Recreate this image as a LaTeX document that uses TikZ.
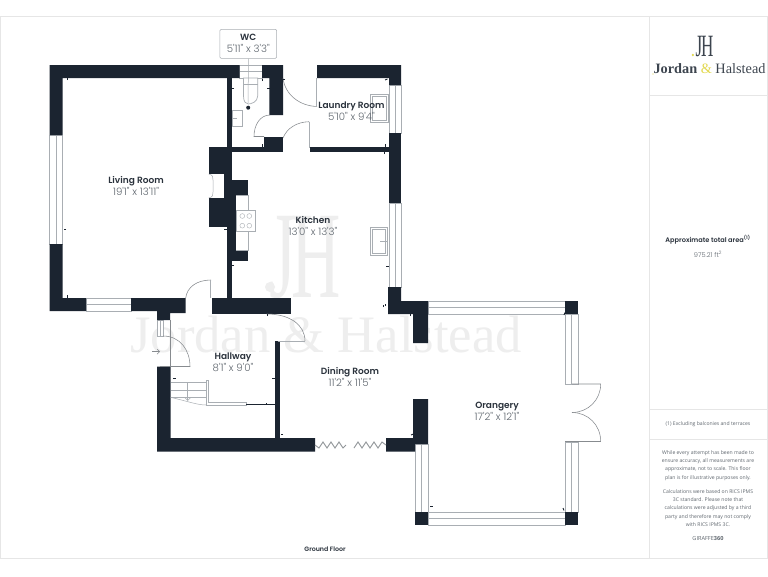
\documentclass[tikz,border=0pt]{standalone}
\usepackage{fontspec}
\setmainfont{Poppins}[BoldFont={Poppins SemiBold}]
\newfontfamily\dimfont{Poppins Light}
\newfontfamily\serifbrand{Liberation Serif}
\newfontfamily\smallsans{Open Sans}
\usetikzlibrary{arrows.meta}
\definecolor{wall}{HTML}{1B2430}
\definecolor{frameline}{HTML}{E6E6E6}
\definecolor{fixture}{HTML}{A9AEB3}
\definecolor{dimtext}{HTML}{5F666E}
\definecolor{nametext}{HTML}{2A323C}
\definecolor{wmgray}{HTML}{EEEEEE}
\definecolor{brandgold}{HTML}{E2D84C}
\tikzset{
  wallfill/.style={fill=wall,draw=none},
  winbox/.style={draw=fixture,line width=.6pt,fill=white},
  fixline/.style={draw=fixture,line width=.7pt},
  doorline/.style={draw=fixture!80!black,line width=.55pt},
  bifold/.style={draw=fixture!85!black,line width=.9pt},
  roomtext/.style={align=center,inner sep=0pt,font=\fontsize{9}{12}\selectfont},
  notetext/.style={align=center,inner sep=0pt,text=dimtext,font=\smallsans\fontsize{5.1}{8.2}\selectfont},
  tick/.style={draw=wall,line width=.9pt},
}
\newcommand{\roomlabel}[2]{{\color{nametext}\bfseries #1}\\{\color{dimtext}\dimfont\fontsize{10.2}{12}\selectfont #2}}
\begin{document}
\begin{tikzpicture}[x=1pt,y=-1pt]
\useasboundingbox (0,0) rectangle (768,576);
\fill[white] (0,0) rectangle (768,576);
% frame
\draw[frameline,line width=.7pt] (0.7,16.2) rectangle (767.5,558);
\draw[frameline,line width=.6pt] (649.5,16.2) -- (649.5,558);
\draw[frameline,line width=.6pt] (649.5,95.5) -- (767.5,95.5);
\draw[frameline,line width=.6pt] (649.5,409.5) -- (767.5,409.5);
\draw[frameline,line width=.6pt] (649.5,439.5) -- (767.5,439.5);
% watermark
\node[text=wmgray,inner sep=0pt,font=\serifbrand\fontsize{52.6}{52}\selectfont] (wmtext) at (326,335) {Jordan \& Halstead};
\node[text=wmgray,inner sep=0pt,font=\serifbrand\fontsize{124}{124}\selectfont] (wmjh) at (305,258) {\scalebox{.55}[1]{J\kern-8pt H}};
\fill[wmgray] (270,287) circle (5);
% windows (under the walls)
\foreach \xa/\ya/\xb/\yb/\xm/\ym/\xn/\yn in {
  49.5/135/62.5/244/56/135/56/244,
  86/298/131/311/86/304.5/131/304.5,
  239.5/65/262/78/239.5/71.5/262/71.5,
  389/85/401/133/395/85/395/133,
  389/203/401/287/395/203/395/287,
  428/301/565/314/428/307.5/565/307.5,
  565/314/578/384/571.5/314/571.5/384,
  565/442/578/512/571.5/442/571.5/512,
  428/512/565/525/428/518.5/565/518.5,
  415/444/428/512/421.5/444/421.5/512,
  157.5/320/163.5/336/160.5/320/160.5/336}{
  \draw[winbox] (\xa,\ya) rectangle (\xb,\yb);
  \draw[fixline,line width=.5pt] (\xm,\ym) -- (\xn,\yn);
}
% main walls
\fill[wallfill] (49.5,65) -- (239.5,65) -- (239.5,78) -- (62.5,78) -- (62.5,135) -- (49.5,135) -- cycle;
\fill[wallfill] (49.5,244) -- (62.5,244) -- (62.5,298) -- (86,298) -- (86,311) -- (49.5,311) -- cycle;
\fill[wallfill] (131,298) -- (185.7,298) -- (185.7,313) -- (170,313) -- (170,320) -- (157,320) -- (157,311) -- (131,311) -- cycle;
\fill[wallfill] (211.5,298) rectangle (290.7,314);
% living / kitchen party wall
\fill[wallfill] (226.7,78) rectangle (231.7,150);
\fill[wallfill] (226.7,146.7) rectangle (282.7,151.7);
\fill[wallfill] (263.5,136.7) rectangle (282.7,151.7);
\fill[wallfill] (208.7,146.5) rectangle (231.7,226.5);
\fill[white] (208.7,174) rectangle (224,198);
\draw[fixline,line width=.5pt] (208.7,174) .. controls (213,175) and (213,177) .. (213,180) -- (213,192) .. controls (213,195) and (213,197) .. (208.7,198);
\fill[wallfill] (226.7,226) rectangle (231.7,298);
% kitchen cooker run
\fill[wallfill] (231,180) rectangle (248,195);
\fill[wallfill] (231,195) rectangle (236.3,250);
\fill[wallfill] (231,250) rectangle (248,261);
\draw[fixline,line width=.5pt] (236.3,195) -- (248,195) -- (248,250) -- (236.3,250);
\draw[fixline,fill=white] (236.7,210) rectangle (255.3,231.3);
\foreach \cx/\cy in {242.3/216,249.3/216,242.3/225.7,249.3/225.7}
  \draw[fixline,line width=.4pt] (\cx,\cy) circle (2.4);
% WC walls
\fill[wallfill] (262,65) -- (283,65) -- (283,115) -- (269.3,115) -- (269.3,78) -- (262,78) -- cycle;
% laundry and right walls
\fill[wallfill] (317,65) -- (401,65) -- (401,85) -- (389,85) -- (389,78) -- (317,78) -- cycle;
\fill[wallfill] (310,146.7) rectangle (389,151.7);
\fill[wallfill] (389,133) rectangle (401,203);
\fill[wallfill] (388,287) -- (401,287) -- (401,301) -- (428,301) -- (428,343) -- (413,343) -- (413,314) -- (388,314) -- cycle;
% hallway and south walls
\fill[wallfill] (157,366.7) -- (170.7,366.7) -- (170.7,438) -- (315,438) -- (315,451.7) -- (157,451.7) -- cycle;
\fill[wallfill] (275,341) rectangle (280,438);
\fill[wallfill] (386,438) -- (413,438) -- (413,399) -- (428,399) -- (428,444) -- (415,444) -- (415,451.7) -- (386,451.7) -- cycle;
% orangery corners
\fill[wallfill] (565,301) rectangle (578,314);
\fill[wallfill] (565,512) rectangle (578,525);
\fill[wallfill] (415,512) rectangle (428,525);
% WC fixtures
\draw[fixline,fill=white] (243.5,78) -- (243.5,96) .. controls (243.5,102) and (246,104) .. (248.3,104) .. controls (251,104) and (257.7,102) .. (257.7,96) -- (257.7,78) -- cycle;
\draw[fixline,line width=.5pt] (243.5,84) -- (257.7,84);
\draw[fixline,fill=white] (232.3,110) rectangle (242.3,126);
\draw[fixline,line width=.5pt] (232.3,118) -- (236.5,118);
\fill[wall] (248.2,107.7) circle (2);
% sinks
\draw[fixline,fill=white] (370.7,94) rectangle (388.3,122.3);
\draw[fixline,line width=.5pt] (372.7,96) rectangle (386.3,120.3);
\draw[fixline,fill=white] (370.7,227.7) rectangle (387.7,255.7);
\draw[fixline,line width=.5pt] (372.7,229.7) rectangle (385.7,253.7);
\draw[fixline,line width=.5pt] (380,241.7) -- (387.7,241.7);
% doors
\draw[doorline] (283,78) .. controls (285,95) and (300,106) .. (317,106.5);
\draw[fixline,line width=.9pt] (316.7,78) -- (316.7,106.5);
\draw[doorline] (270,115) .. controls (260,115) and (254,125) .. (254,136.5) -- (264,136.5);
\draw[doorline] (283,138) .. controls (287,128) and (297,122) .. (309,121.7);
\draw[fixline,line width=.9pt] (309,121.7) -- (309,148);
\draw[doorline] (185.7,298) .. controls (187,287) and (197,280) .. (211,280);
\draw[fixline,line width=.9pt] (210.3,280) -- (210.3,298);
\draw[doorline] (266.7,314) .. controls (290,314) and (305,325) .. (305,341);
\draw[fixline,line width=.9pt] (277.7,341) -- (305,341);
\draw[doorline] (163,336) .. controls (180,336) and (190,350) .. (190,366.5) -- (160,366.5);
\draw[doorline] (170,320) -- (170,366.5);
\draw[doorline,-{Straight Barb[length=2.5pt,width=5pt]}] (152,351.7) -- (160,351.7);
% orangery french doors
\draw[doorline] (572,384) -- (600.7,384) .. controls (600.7,400) and (588,412.5) .. (572,412.5);
\draw[doorline] (565,441.5) -- (600.7,441.5) .. controls (600.7,425) and (588,412.5) .. (572,412.5);
% stairs
\draw[fixline,line width=.5pt] (170.7,382.3) -- (206,382.3);
\draw[fixline,line width=.5pt] (170.7,390) -- (206,390);
\draw[fixline,line width=.5pt] (170.7,397.3) -- (206,397.3);
\draw[fixline,line width=.5pt] (187.7,382.3) -- (187.7,400);
\draw[fixline,line width=.5pt] (184.7,397.5) -- (187.7,400.5) -- (190.7,397.5);
\draw[fixline,line width=.5pt] (170.7,397.3) .. controls (190,402) and (198,405) .. (206,405);
\draw[fixline,line width=.6pt,fill=white] (206,380) -- (208.3,380) -- (208.3,402.7) -- (246,402.7) -- (246,405) -- (206,405) -- cycle;
\draw[wall,line width=.4pt] (246,403.7) -- (275,403.7);
% bifold doors
\draw[bifold] (315,445) -- (319,448) -- (323,442) -- (327,448) -- (331,442) -- (335,448) -- (339,442) -- (343,448) -- (346,445);
\draw[bifold] (354,448) -- (358,442) -- (362,448) -- (366,442) -- (370,448) -- (374,442) -- (378,448) -- (382,442) -- (386,445);
% small measure ticks
\foreach \tx/\ty/\dx/\dy in {
  67/80/0/-2.5, 66/229/-2.5/0, 67/295/0/2.5, 224/229/2.5/0,
  234/88/-2.5/0, 267/88/2.5/0, 262/81/0/-2.5, 285/79/-2.5/0,
  385/80/2.5/-1, 262/144/0/2.5, 385/144/0/2.5, 384/154/0/-2.5,
  234/265/-2.5/0, 386/266/2.5/0, 385/306/0/-2.5, 230/228/-2.5/0,
  173/378/2.5/0, 272/378/2.5/0, 267/316/0/-2.5, 283/434/-2.5/0,
  383/307/0/-2.5, 410/316/0/-2.5, 564/315/1/-2.5, 563/508/1/2.5,
  430/506/2.5/0, 411/435/2.5/-1, 266/403/0/1.5}{
  \draw[tick] (\tx,\ty) -- ++(\dx,\dy);
}
% labels
\node[draw=fixture,fill=white,rounded corners=1.2pt,line width=.5pt,minimum width=56.7pt,minimum height=29pt,inner sep=0pt] (wclabel) at (248.3,43.8) {};
\node[roomtext] (wctext) at (wclabel.center) {\roomlabel{WC}{5'11" x 3'3"}};
\coordinate (wcbowl) at (248.2,103);
\draw[fixline,line width=.5pt] (wclabel.south) -- (wcbowl);
\node[roomtext] (living) at (136,186) {\roomlabel{Living Room}{19'1" x 13'11"}};
\node[roomtext] (laundry) at (351.5,111) {\roomlabel{Laundry Room}{5'10" x 9'4"}};
\node[roomtext] (kitchen) at (313,226) {\roomlabel{Kitchen}{13'0" x 13'3"}};
\node[roomtext] (hall) at (233,362) {\roomlabel{Hallway}{8'1" x 9'0"}};
\node[roomtext] (dining) at (350,376.5) {\roomlabel{Dining Room}{11'2" x 11'5"}};
\node[roomtext] (orangery) at (497,411.5) {\roomlabel{Orangery}{17'2" x 12'1"}};
\node[inner sep=0pt,text=nametext,font=\bfseries\fontsize{6.3}{8}\selectfont] (floor) at (325,549) {Ground Floor};
% brand
\node[inner sep=0pt,text=wall!85!white,font=\serifbrand\fontsize{31}{31}\selectfont] (logojh) at (704.5,46) {\scalebox{.55}[1]{J\kern-2pt H}};
\fill[brandgold] (692.8,55) circle (1.3);
\fill[brandgold] (653,74) circle (.7);
\node[inner sep=0pt,text=wall!85!white,font=\serifbrand\fontsize{14.3}{15}\selectfont] (logotext) at (709.5,68.5) {\textbf{Jordan} \textcolor{brandgold}{\&} Halstead};
% side notes
\node[inner sep=0pt,text=nametext,font=\bfseries\fontsize{6.6}{8}\selectfont] (areatitle) at (708,240) {Approximate total area\textsuperscript{(1)}};
\node[inner sep=0pt,text=dimtext,font=\dimfont\fontsize{6.6}{8}\selectfont] (areaval) at (708,254) {975.21 ft\textsuperscript{2}};
\node[notetext] (excl) at (708,424) {(1) Excluding balconies and terraces};
\node[notetext] (disc) at (708,465.5) {While every attempt has been made to\\ensure accuracy, all measurements are\\approximate, not to scale. This floor\\plan is for illustrative purposes only.};
\node[notetext] (calc) at (708,508) {Calculations were based on RICS IPMS\\3C standard. Please note that\\calculations were adjusted by a third\\party and therefore may not comply\\with RICS IPMS 3C.};
\node[inner sep=0pt,text=dimtext,font=\smallsans\fontsize{5.6}{7}\selectfont] (giraffe) at (708,538.5) {GIRAFFE\textbf{360}};
\end{tikzpicture}
\end{document}
